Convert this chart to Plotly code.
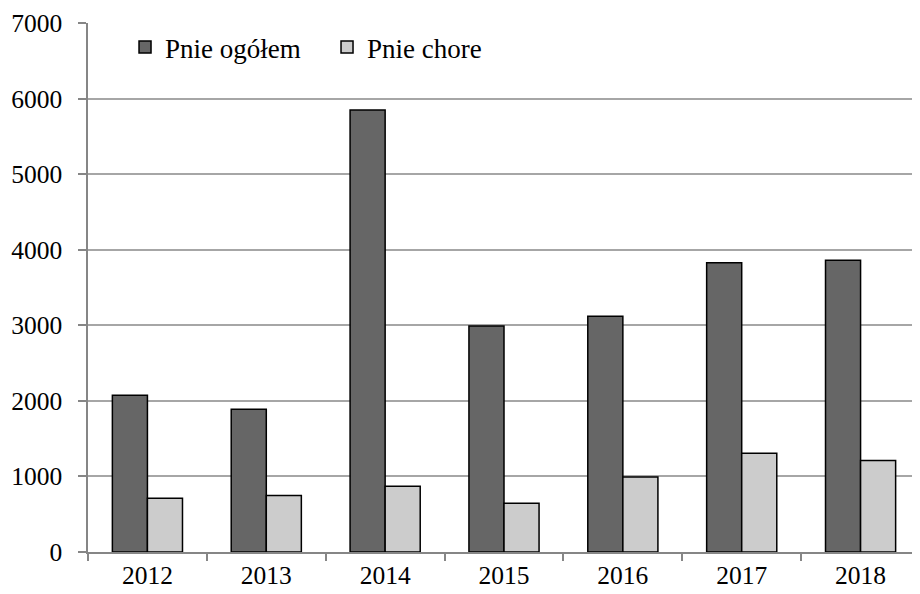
import plotly.graph_objects as go

years = ["2012", "2013", "2014", "2015", "2016", "2017", "2018"]
pnie_ogolem = [2075, 1890, 5850, 2990, 3118, 3828, 3860]
pnie_chore = [711, 747, 869, 645, 993, 1307, 1210]
y_ticks = [0, 1000, 2000, 3000, 4000, 5000, 6000, 7000]

FONT = "Liberation Serif"

fig = go.Figure()
fig.add_trace(go.Bar(
    x=years, y=pnie_ogolem, name="Pnie ogółem",
    marker=dict(color="#666666", line=dict(color="#000000", width=1.5)),
))
fig.add_trace(go.Bar(
    x=years, y=pnie_chore, name="Pnie chore",
    marker=dict(color="#cccccc", line=dict(color="#000000", width=1.5)),
))

# page has an 8px body margin, so the figure is 8px smaller and margins shifted
fig.update_layout(
    width=912, height=586,
    margin=dict(l=80, r=0, t=15, b=42, autoexpand=False),
    paper_bgcolor="white", plot_bgcolor="white",
    barmode="group", bargap=0.41, bargroupgap=0,
    font=dict(family=FONT, size=25.5, color="#000000"),
    showlegend=True,
    legend=dict(
        orientation="h", x=0.0445, y=1.0, xanchor="left", yanchor="top",
        font=dict(family=FONT, size=27, color="#000000"),
        bgcolor="rgba(0,0,0,0)", itemwidth=30, tracegroupgap=0,
        traceorder="normal", entrywidth=157,
    ),
    xaxis=dict(
        type="category", showgrid=False, showline=True, linecolor="#868686",
        linewidth=1.5, ticks="outside", tickson="boundaries", ticklen=7,
        tickcolor="#868686", tickwidth=1.5, automargin=False,
        tickfont=dict(family=FONT, size=25.5, color="#000000"),
        range=[-0.5, 6.5],
    ),
    yaxis=dict(
        range=[0, 7000], tickvals=y_ticks, showgrid=True, gridcolor="#a6a6a6",
        gridwidth=1.5, showline=True, linecolor="#868686", linewidth=1.5,
        ticks="outside", ticklen=8, tickcolor="#868686", tickwidth=1.5,
        tickfont=dict(family=FONT, size=25.5, color="#000000"),
        ticklabelstandoff=11, zeroline=False, automargin=False,
    ),
)

fig.write_html("out.html")
